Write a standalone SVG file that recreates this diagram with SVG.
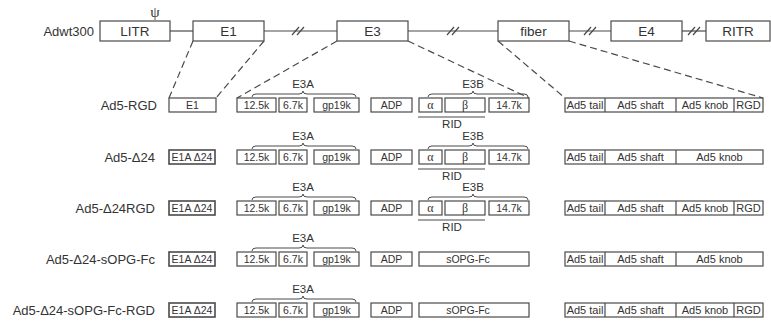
<svg xmlns="http://www.w3.org/2000/svg" width="771" height="325" viewBox="0 0 771 325">
<style>
.b{fill:#fff;stroke:#4a4a4a;stroke-width:1.2}
.b2{fill:#fff;stroke:#4a4a4a;stroke-width:1.6}
.ln{stroke:#4a4a4a;stroke-width:1.2;fill:none}
.ds{stroke:#4a4a4a;stroke-width:1.2;fill:none;stroke-dasharray:7,4}
.br{stroke:#4a4a4a;stroke-width:1;fill:none}
text{font-family:"Liberation Sans",Arial,sans-serif;fill:#333}
.lg{font-size:13.5px}
.rl{font-size:13px;text-anchor:end}
.m{font-size:10.5px;text-anchor:middle}
.h{font-size:11.5px;text-anchor:middle}
.f{font-size:11px;text-anchor:middle}
.g{font-family:"Liberation Serif","Times New Roman",serif;font-size:12px;text-anchor:middle}
.c{text-anchor:middle}
</style>
<defs>
<g id="e3a">
<rect class="b" x="237" y="0" width="39" height="14"/><text class="m" x="256.5" y="11">12.5k</text>
<rect class="b" x="279" y="0" width="28" height="14"/><text class="m" x="293" y="11">6.7k</text>
<rect class="b" x="314" y="0" width="45" height="14"/><text class="m" x="336.5" y="11">gp19k</text>
<rect class="b" x="371" y="0" width="41" height="14"/><text class="m" x="391.5" y="11">ADP</text>
<path class="br" d="M252,-1 Q252,-4 256,-4 H299 Q303,-4 303,-7 Q303,-4 307,-4 H352 Q356,-4 356,-1"/>
<text class="h" x="303" y="-10">E3A</text>
</g>
<g id="e3b">
<rect class="b" x="419" y="0" width="23" height="14"/><text class="g" x="430.5" y="11">α</text>
<rect class="b" x="445" y="0" width="40" height="14"/><text class="g" x="465" y="11">β</text>
<rect class="b" x="489" y="0" width="40" height="14"/><text class="m" x="509" y="11">14.7k</text>
<path class="br" d="M428,-1 Q428,-4 432,-4 H469 Q473,-4 473,-7 Q473,-4 477,-4 H524 Q528,-4 528,-1"/>
<text class="h" x="473" y="-10">E3B</text>
<line class="ln" x1="418" y1="19" x2="485" y2="19"/>
<text class="h" x="452" y="30">RID</text>
</g>
<g id="fibR">
<rect class="b" x="565" y="0" width="198" height="14"/>
<line class="ln" x1="605" y1="0" x2="605" y2="14"/>
<line class="ln" x1="676" y1="0" x2="676" y2="14"/>
<line class="ln" x1="734" y1="0" x2="734" y2="14"/>
<text class="f" x="585" y="11">Ad5 tail</text>
<text class="f" x="640.5" y="11">Ad5 shaft</text>
<text class="f" x="705" y="11">Ad5 knob</text>
<text class="f" x="748.5" y="11">RGD</text>
</g>
<g id="fibN">
<rect class="b" x="565" y="0" width="198" height="14"/>
<line class="ln" x1="605" y1="0" x2="605" y2="14"/>
<line class="ln" x1="676" y1="0" x2="676" y2="14"/>
<text class="f" x="585" y="11">Ad5 tail</text>
<text class="f" x="640.5" y="11">Ad5 shaft</text>
<text class="f" x="719.5" y="11">Ad5 knob</text>
</g>
<g id="e1a">
<rect class="b2" x="169" y="0" width="46" height="14"/><text class="m" x="192" y="11">E1A Δ24</text>
</g>
<g id="sopg">
<rect class="b" x="419" y="0" width="110" height="14"/><text class="m" x="468" y="11">sOPG-Fc</text>
</g>
</defs>

<g id="connectors">
<line class="ln" x1="170" y1="31" x2="193" y2="31"/>
<line class="ln" x1="264" y1="31" x2="337" y2="31"/>
<line class="ln" x1="408" y1="31" x2="498" y2="31"/>
<line class="ln" x1="569" y1="31" x2="611" y2="31"/>
<line class="ln" x1="682" y1="31" x2="706" y2="31"/>
<path class="ln" d="M292,35 L299,27 M297,35 L304,27"/>
<path class="ln" d="M447,35 L454,27 M452,35 L459,27"/>
<path class="ln" d="M584,35 L591,27 M589,35 L596,27"/>
<path class="ln" d="M688,35 L695,27 M693,35 L700,27"/>
<line class="ds" x1="193" y1="41" x2="169" y2="98"/>
<line class="ds" x1="264" y1="41" x2="216" y2="98"/>
<line class="ds" x1="337" y1="41" x2="237" y2="98"/>
<line class="ds" x1="408" y1="41" x2="529" y2="98"/>
<line class="ds" x1="498" y1="41" x2="565" y2="98"/>
<line class="ds" x1="569" y1="41" x2="763" y2="98"/>
</g>

<g id="wt">
<text class="rl" x="94" y="36">Adwt300</text>
<text class="g" x="155" y="17" style="font-size:15px">ψ</text>
<g id="LITR"><rect class="b" x="100" y="21" width="70" height="20"/><text class="lg c" x="135" y="36">LITR</text></g>
<g id="E1"><rect class="b" x="193" y="21" width="71" height="20"/><text class="lg c" x="228.5" y="36">E1</text></g>
<g id="E3"><rect class="b" x="337" y="21" width="71" height="20"/><text class="lg c" x="372.5" y="36">E3</text></g>
<g id="fiber"><rect class="b" x="498" y="21" width="71" height="20"/><text class="lg c" x="533.5" y="36">fiber</text></g>
<g id="E4"><rect class="b" x="611" y="21" width="71" height="20"/><text class="lg c" x="646.5" y="36">E4</text></g>
<g id="RITR"><rect class="b" x="706" y="21" width="64" height="20"/><text class="lg c" x="738" y="36">RITR</text></g>
</g>

<g id="row1" transform="translate(0,98)">
<text class="rl" x="157" y="12">Ad5-RGD</text>
<rect class="b" x="169" y="0" width="47" height="14"/><text class="m" x="192.5" y="11">E1</text>
<use href="#e3a"/><use href="#e3b"/><use href="#fibR"/>
</g>
<g id="row2" transform="translate(0,150)">
<text class="rl" x="155" y="12">Ad5-Δ24</text>
<use href="#e1a"/><use href="#e3a"/><use href="#e3b"/><use href="#fibN"/>
</g>
<g id="row3" transform="translate(0,201)">
<text class="rl" x="155" y="12">Ad5-Δ24RGD</text>
<use href="#e1a"/><use href="#e3a"/><use href="#e3b"/><use href="#fibR"/>
</g>
<g id="row4" transform="translate(0,252)">
<text class="rl" x="155" y="12">Ad5-Δ24-sOPG-Fc</text>
<use href="#e1a"/><use href="#e3a"/><use href="#sopg"/><use href="#fibN"/>
</g>
<g id="row5" transform="translate(0,303)">
<text class="rl" x="155" y="12">Ad5-Δ24-sOPG-Fc-RGD</text>
<use href="#e1a"/><use href="#e3a"/><use href="#sopg"/><use href="#fibR"/>
</g>
</svg>
